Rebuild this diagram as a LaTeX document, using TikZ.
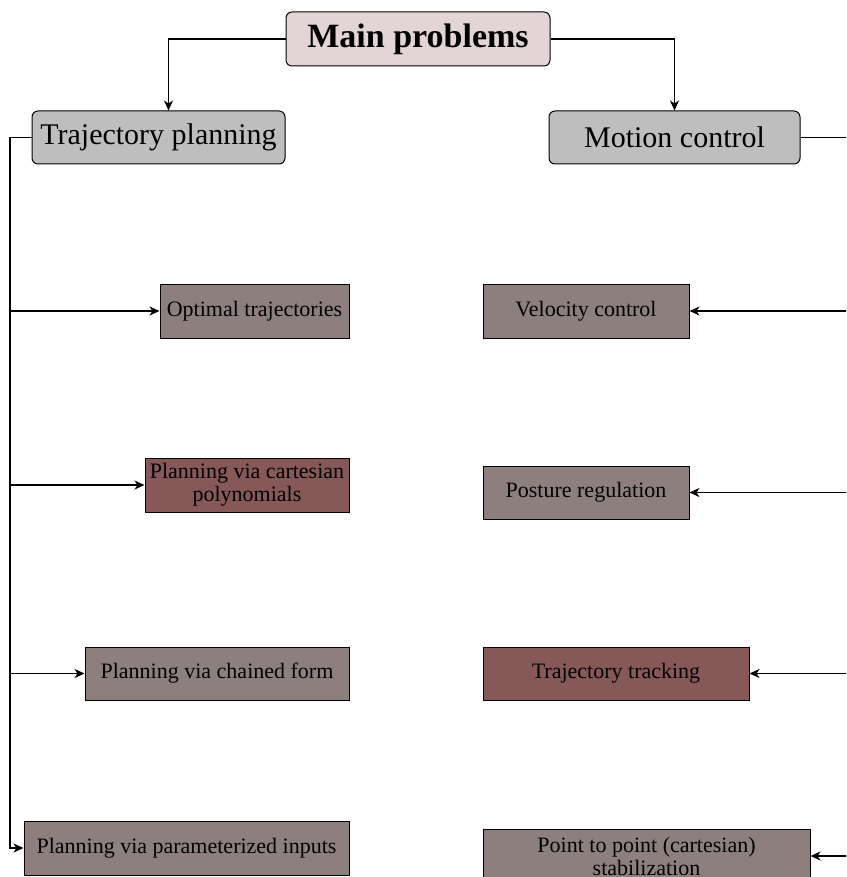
\documentclass[tikz,border=0pt]{standalone}
\usepackage{fontspec}
\setmainfont{Liberation Serif}
\usetikzlibrary{arrows.meta}

\definecolor{mainfill}{HTML}{E3D5D5}
\definecolor{groupfill}{HTML}{BEBEBE}
\definecolor{itemfill}{HTML}{8D7F7E}
\definecolor{hotfill}{HTML}{875858}

\begin{document}
\begin{tikzpicture}[x=1pt,y=-1pt,
    conn/.style={line width=1.8pt,-{Stealth[length=10pt,width=9pt,inset=3pt]}},
    wire/.style={line width=1.8pt},
    topbox/.style={draw,line width=1pt,rounded corners=6pt,fill=mainfill,inner sep=0pt,
      minimum width=264pt,minimum height=54pt,font=\fontsize{34}{36}\selectfont\bfseries},
    groupbox/.style={draw,line width=1pt,rounded corners=6pt,fill=groupfill,inner sep=0pt,
      minimum height=53pt,font=\fontsize{30}{32}\selectfont},
    itembox/.style={draw,line width=1pt,fill=itemfill,inner sep=0pt,align=center,
      minimum height=54pt,font=\fontsize{22}{23}\selectfont},
    hotbox/.style={itembox,fill=hotfill}]

    \clip (0,0) rectangle (846,877);
    \fill[white] (0,0) rectangle (846,877);

    \node[topbox] (main) at (418,39) {Main problems};
    \node[groupbox,minimum width=253pt] (traj) at (158.5,137.5) {Trajectory planning};
    \node[groupbox,minimum width=251pt] (motion) at (674.5,137.5) {Motion control};

    \node[itembox,minimum width=189pt] (opt) at (254.5,311) {Optimal trajectories};
    \node[hotbox,minimum width=204pt] (cart) at (247,485) {Planning via cartesian\\polynomials};
    \node[itembox,minimum width=264pt,minimum height=53pt] (chain) at (217,673.5) {Planning via chained form};
    \node[itembox,minimum width=325pt] (param) at (186.5,848) {Planning via parameterized inputs};

    \node[itembox,minimum width=206pt] (vel) at (586,311) {Velocity control};
    \node[itembox,minimum width=206pt,minimum height=53pt] (post) at (586,492.5) {Posture regulation};
    \node[hotbox,minimum width=266pt,minimum height=53pt] (track) at (616,673.5) {Trajectory tracking};
    \node[itembox,minimum width=327pt] (p2p) at (646.5,856) {Point to point (cartesian)\\stabilization};

    \draw[conn] (main.west) -| ([xshift=10pt]traj.north);
    \draw[conn] (main.east) -| (motion.north);

    % left bus
    \coordinate (lbus) at (10,0);
    \draw[conn] (traj.west) -- (lbus |- traj.west) |- (param.west);
    \draw[conn] (lbus |- opt.west) -- (opt.west);
    \draw[conn] (lbus |- cart.west) -- (cart.west);
    \draw[conn] (lbus |- chain.west) -- (chain.west);

    % right bus
    \coordinate (rbus) at (872,0);
    \draw[wire] (motion.east) -- (rbus |- motion.east) -- (rbus |- p2p.east);
    \draw[conn] (rbus |- vel.east) -- (vel.east);
    \draw[conn] (rbus |- post.east) -- (post.east);
    \draw[conn] (rbus |- track.east) -- (track.east);
    \draw[conn] (rbus |- p2p.east) -- (p2p.east);

  \end{tikzpicture}
\end{document}
